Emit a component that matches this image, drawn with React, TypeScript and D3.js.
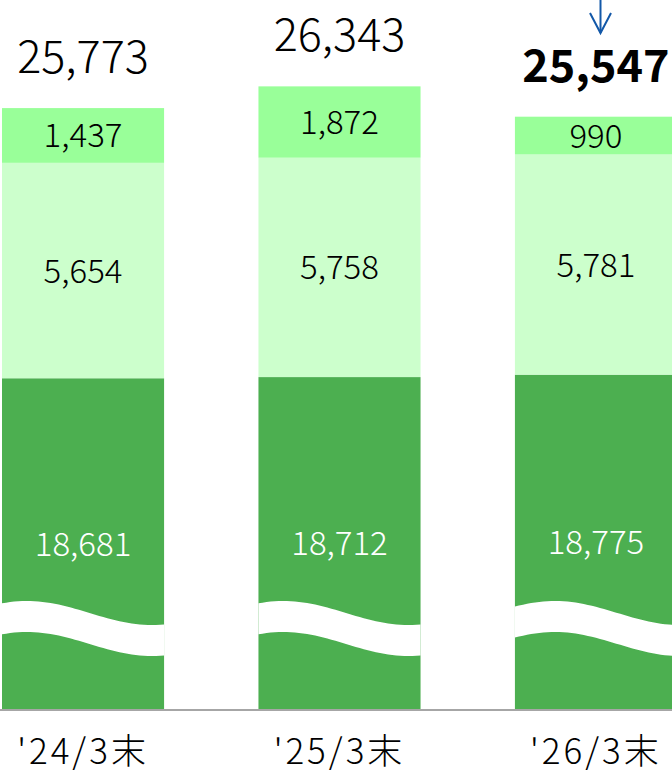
import React from "react";
import * as d3 from "d3";

const categories = ["'24/3末", "'25/3末", "'26/3末"];
const seriesBase = [18681, 18712, 18775];
const seriesMid = [5654, 5758, 5781];
const seriesTop = [1437, 1872, 990];
const totals = [25773, 26343, 25547];

const W = 672;
const H = 774;
const BASE_Y = 709;
const FONT = "'Noto Sans CJK JP', 'Noto Sans', sans-serif";

const colors = ["#4CAF50", "#CCFFCC", "#99FF99"];

export default function App() {
  const x = d3
    .scaleBand<string>()
    .domain(categories)
    .range([2, 677])
    .paddingInner(0.368)
    .paddingOuter(0);

  // broken axis: lower part of the base series is cut off
  const y = d3
    .scaleLinear()
    .domain([10000, 28000])
    .range([BASE_Y, BASE_Y - 18000 * 0.0381]);

  const data = categories.map((c, i) => ({
    cat: c,
    base: seriesBase[i],
    mid: seriesMid[i],
    top: seriesTop[i],
  }));
  const stack = d3.stack<any>().keys(["base", "mid", "top"]);
  const series = stack(data);

  const fmt = d3.format(",");
  const bw = x.bandwidth();

  const wavePath = (x0: number, phase: number) => {
    const n = 40;
    const topPts: [number, number][] = [];
    for (let k = 0; k <= n; k++) {
      const o = (bw * k) / n;
      topPts.push([x0 + o, 613 - 12 * Math.cos((Math.PI * (o - phase)) / 125)]);
    }
    const botPts = topPts.map(([a, b]) => [a, b + 31] as [number, number]).reverse();
    const line = d3.line().curve(d3.curveLinear);
    return line([...topPts, ...botPts]) + "Z";
  };

  return (
    <svg
      width={W}
      height={H}
      style={{ position: "absolute", left: 0, top: 0, background: "#fff" }}
    >
      {series.map((s, si) =>
        s.map((d, i) => {
          const cat = categories[i];
          const x0 = x(cat)!;
          const yTop = y(d[1]);
          const yBot = si === 0 ? BASE_Y : y(d[0]);
          return (
            <rect
              key={`${si}-${i}`}
              x={x0}
              y={yTop}
              width={bw}
              height={yBot - yTop}
              fill={colors[si]}
            />
          );
        })
      )}
      {categories.map((c, i) => (
        <path key={`w${i}`} d={wavePath(x(c)!, i === 2 ? 40 : 25)} fill="#fff" />
      ))}
      {series.map((s, si) =>
        s.map((d, i) => {
          const cat = categories[i];
          const cx = x(cat)! + bw / 2;
          const yTop = y(d[1]);
          const yBot = si === 0 ? BASE_Y : y(d[0]);
          const val = d[1] - d[0];
          return (
            <text
              key={`l${si}-${i}`}
              x={cx}
              y={(yTop + yBot) / 2 + 12}
              textAnchor="middle"
              fontFamily={FONT}
              fontSize={33}
              fontWeight={300}
              fill={si === 0 ? "#fff" : "#000"}
            >
              {fmt(val)}
            </text>
          );
        })
      )}
      {totals.map((t, i) => (
        <text
          key={`t${i}`}
          x={x(categories[i])! + bw / 2}
          y={y(t) - 35}
          textAnchor="middle"
          fontFamily={FONT}
          fontSize={45}
          fontWeight={i === 2 ? 700 : 300}
          fill="#000"
        >
          {fmt(t)}
        </text>
      ))}
      <line x1={0} x2={W} y1={BASE_Y + 1} y2={BASE_Y + 1} stroke="#A6A6A6" strokeWidth={2} />
      {categories.map((c, i) => (
        <text
          key={`c${i}`}
          x={x(c)! + bw / 2}
          y={764}
          textAnchor="middle"
          fontFamily={FONT}
          fontSize={35}
          fontWeight={300}
          letterSpacing={3}
          fill="#000"
        >
          {c}
        </text>
      ))}
      <g stroke="#1358A8" strokeWidth={2} fill="none">
        <line x1={600.5} x2={600.5} y1={0} y2={33} />
        <polyline points="590,13 600.5,33 611,13" />
      </g>
    </svg>
  );
}
